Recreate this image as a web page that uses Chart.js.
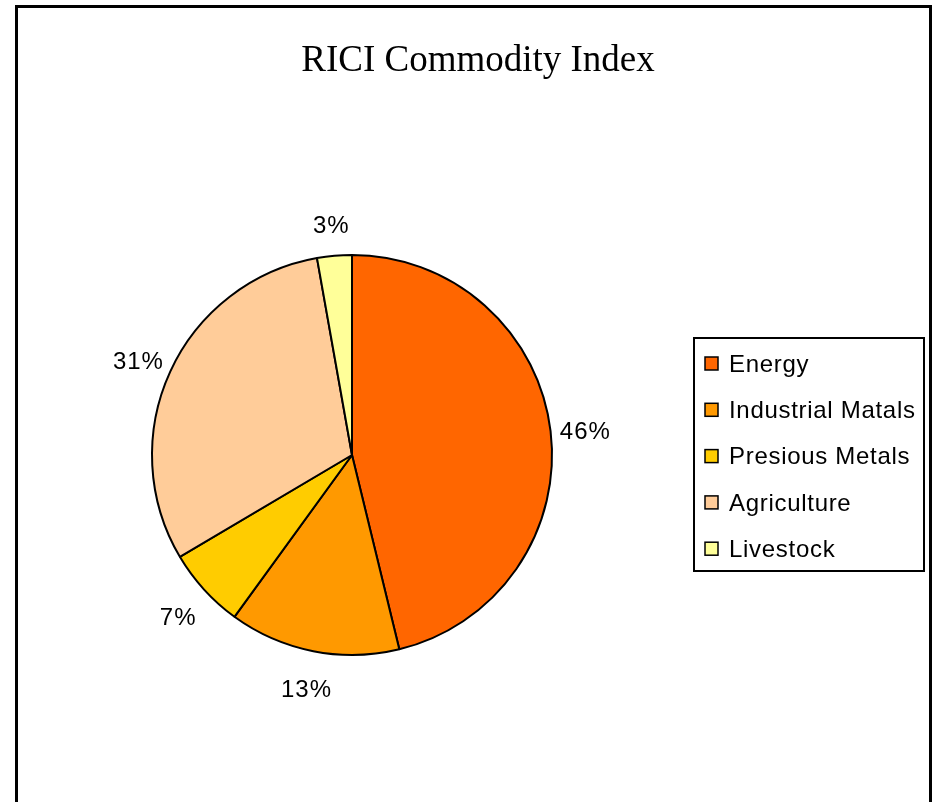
<!DOCTYPE html>
<html>
<head>
<meta charset="utf-8">
<script src="https://cdn.jsdelivr.net/npm/chart.js@4/dist/chart.umd.min.js"></script>
<style>
	html, body { margin: 0; padding: 0; background: #fff; overflow: hidden; }
	#wrap { position: relative; width: 936px; height: 802px; }
	#frame {
		position: absolute; left: 15px; top: 5px; width: 911px; height: 900px;
		border: 3px solid #000; pointer-events: none;
	}
</style>
</head>
<body>
<div id="wrap">
	<canvas id="chart"></canvas>
	<div id="frame"></div>
</div>
<script>
(function() {
	'use strict';

	const title = 'RICI Commodity Index';
	const categories = ['Energy', 'Industrial Matals', 'Presious Metals', 'Agriculture', 'Livestock'];
	// slice sizes; the printed labels are kept as shown
	const shares = [46.2, 13.8, 6.5, 30.7, 2.8];
	const shareLabels = ['46%', '13%', '7%', '31%', '3%'];
	const colors = ['#FF6600', '#FF9900', '#FFCC00', '#FFCC99', '#FFFF99'];

	const sansFont = '"Liberation Sans", Arial, sans-serif';
	const serifFont = '"Liberation Serif", "Times New Roman", serif';

	// title, percent labels and the boxed legend on the right
	const decorations = {
		id: 'decorations',
		afterDraw(chart) {
			const ctx = chart.ctx;
			ctx.save();

			ctx.fillStyle = '#000';
			ctx.font = '37px ' + serifFont;
			ctx.textAlign = 'center';
			ctx.textBaseline = 'middle';
			ctx.fillText(title, 478, 61);

			const meta = chart.getDatasetMeta(0);
			ctx.font = '24px ' + sansFont;
			ctx.letterSpacing = '1px';
			meta.data.forEach((arc, i) => {
				const mid = (arc.startAngle + arc.endAngle) / 2;
				const r = arc.outerRadius + 35;
				const x = arc.x + Math.cos(mid) * r;
				const y = arc.y + Math.sin(mid) * r + 5;
				ctx.fillText(shareLabels[i], x, y);
			});

			const box = { x: 694, y: 338, w: 230, h: 233 };
			ctx.letterSpacing = '0px';
			ctx.lineWidth = 2;
			ctx.strokeStyle = '#000';
			ctx.strokeRect(box.x, box.y, box.w, box.h);

			ctx.font = '24px ' + sansFont;
			ctx.letterSpacing = '0.7px';
			ctx.textAlign = 'left';
			const rowGap = 46.3;
			categories.forEach((name, i) => {
				const cy = 364 + i * rowGap;
				ctx.fillStyle = colors[i];
				ctx.fillRect(705, cy - 7, 13, 13);
				ctx.lineWidth = 1.5;
				ctx.strokeRect(705, cy - 7, 13, 13);
				ctx.fillStyle = '#000';
				ctx.fillText(name, 729, cy + 1);
			});

			ctx.restore();
		}
	};

	new Chart(document.getElementById('chart'), {
		type: 'pie',
		data: {
			labels: categories,
			datasets: [{
				data: shares,
				backgroundColor: colors,
				borderColor: '#000',
				borderWidth: 2,
				hoverOffset: 0
			}]
		},
		options: {
			responsive: true,
			maintainAspectRatio: false,
			animation: false,
			layout: { padding: { left: 151, right: 383, top: 254, bottom: 146 } },
			plugins: {
				legend: { display: false },
				title: { display: false },
				tooltip: { enabled: false }
			}
		},
		plugins: [decorations]
	});
})();
</script>
</body>
</html>
